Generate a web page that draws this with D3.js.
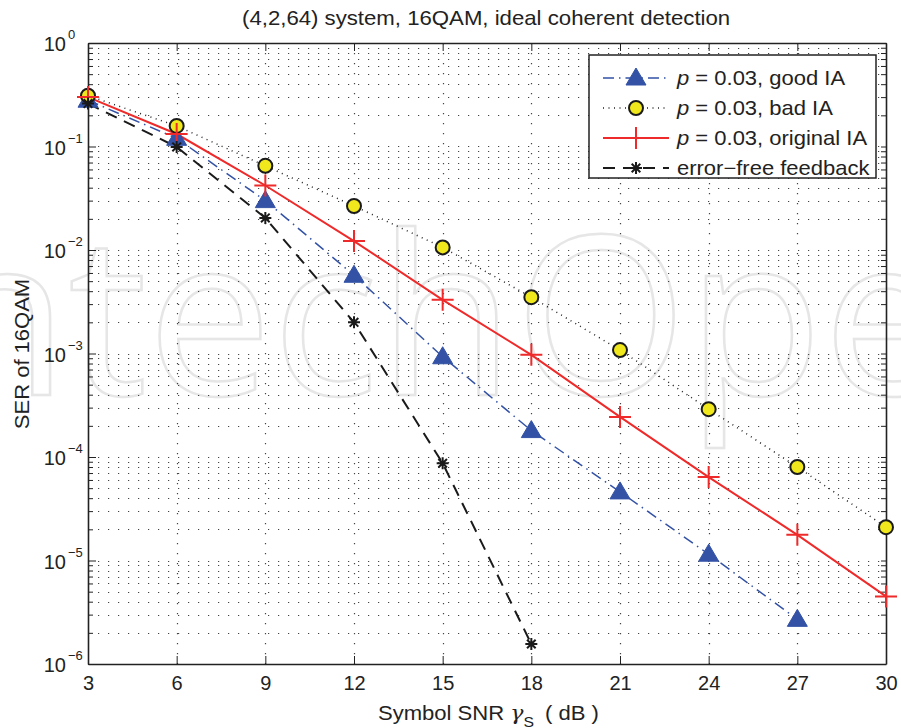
<!DOCTYPE html>
<html>
<head>
<meta charset="utf-8">
<script src="https://cdn.jsdelivr.net/npm/d3@7"></script>
<style>
  html, body { margin: 0; padding: 0; background: #fff; }
  svg { display: block; }
  text { font-family: "Liberation Sans", Arial, Helvetica, sans-serif; fill: #222; }
</style>
</head>
<body>
<svg id="chart" width="901" height="728"></svg>
<script>
// SNR points (dB)
const snr = [3, 6, 9, 12, 15, 18, 21, 24, 27, 30];

// Symbol error rates for each feedback scenario
const serGoodIA     = [0.28, 0.12, 0.030, 5.7e-3, 9.3e-4, 1.8e-4, 4.6e-5, 1.15e-5, 2.7e-6];
const serBadIA      = [0.31, 0.158, 0.065, 0.0266, 0.0106, 3.5e-3, 1.08e-3, 2.9e-4, 8.0e-5, 2.1e-5];
const serOriginalIA = [0.30, 0.132, 0.042, 0.0122, 3.3e-3, 9.7e-4, 2.44e-4, 6.4e-5, 1.77e-5, 4.5e-6];
const serErrorFree  = [0.26, 0.099, 0.0204, 2.0e-3, 8.7e-5, 1.56e-6];

const xTicks = [3, 6, 9, 12, 15, 18, 21, 24, 27, 30];
const yDecades = [0, -1, -2, -3, -4, -5, -6];

const legendLabels = [
  { p: "p", rest: " = 0.03, good IA" },
  { p: "p", rest: " = 0.03, bad IA" },
  { p: "p", rest: " = 0.03, original IA" },
  { p: "", rest: "error\u2212free feedback" }
];

const svg = d3.select("#chart");
const m = { left: 88, top: 43, right: 886, bottom: 664 };

const x = d3.scaleLinear().domain([3, 30]).range([m.left, m.right]);
const y = d3.scaleLog().domain([1e-6, 1]).range([m.bottom, m.top]);

// stretch a text element horizontally about its left edge by factor k
function stretchX(sel, k) {
  const x0 = +sel.attr("x");
  sel.attr("transform", `translate(${x0 * (1 - k)},0) scale(${k},1)`);
}

// faint publisher mark behind the plot
svg.append("text")
  .attr("x", -130).attr("y", 395)
  .style("font-family", "'Open Sans', sans-serif")
  .style("font-weight", 400)
  .style("font-size", "222px")
  .style("fill", "none")
  .style("stroke", "#e6e6e6")
  .style("stroke-width", 2.5)
  .text("IntechOpen");

const plot = svg.append("g");

// grid: horizontal lines at every decade and minor log tick, vertical at major x ticks
const minorVals = [];
for (let e = -6; e < 0; e++) for (let k = 1; k <= 9; k++) minorVals.push(k * Math.pow(10, e));
minorVals.push(1);

plot.append("g").selectAll("line").data(minorVals.filter(v => v > 1e-6 && v < 1)).join("line")
  .attr("x1", m.left).attr("x2", m.right)
  .attr("y1", d => Math.round(y(d)) + 0.5).attr("y2", d => Math.round(y(d)) + 0.5)
  .attr("stroke", "#444").attr("stroke-width", 1.2)
  .attr("stroke-dasharray", "1.2,8.8");

plot.append("g").selectAll("line").data(xTicks.slice(1, -1)).join("line")
  .attr("x1", d => Math.round(x(d)) + 0.5).attr("x2", d => Math.round(x(d)) + 0.5)
  .attr("y1", m.top).attr("y2", m.bottom)
  .attr("stroke", "#444").attr("stroke-width", 1.2)
  .attr("stroke-dasharray", "1.2,8.8");

// axes box with inward ticks
const axB = d3.axisBottom(x).tickValues(xTicks).tickSizeInner(-8).tickSizeOuter(0).tickPadding(12);
const axT = d3.axisTop(x).tickValues(xTicks).tickSizeInner(-8).tickSizeOuter(0).tickFormat("");
const axL = d3.axisLeft(y).tickValues(minorVals).tickSizeInner(-5).tickSizeOuter(0).tickFormat("");
const axR = d3.axisRight(y).tickValues(minorVals).tickSizeInner(-5).tickSizeOuter(0).tickFormat("");

const gB = plot.append("g").attr("transform", `translate(0,${m.bottom})`).call(axB);
plot.append("g").attr("transform", `translate(0,${m.top})`).call(axT);
const gL = plot.append("g").attr("transform", `translate(${m.left},0)`).call(axL);
plot.append("g").attr("transform", `translate(${m.right},0)`).call(axR);

// longer ticks at decades
gL.selectAll(".tick").filter(d => Number.isInteger(Math.log10(d))).select("line").attr("x2", 8);
plot.selectAll(".domain").attr("stroke", "#222").attr("stroke-width", 1.6);
plot.selectAll(".tick line").attr("stroke", "#222").attr("stroke-width", 1);
gB.selectAll(".tick text").style("font-size", "20px").style("fill", "#222")
  .style("font-family", "'Liberation Sans', Arial, sans-serif");

// y decade labels "10^e"
const yl = svg.append("g");
yDecades.forEach(e => {
  yl.append("text").attr("x", 66).attr("y", y(Math.pow(10, e)) + 8)
    .attr("text-anchor", "end").style("font-size", "20px").text("10");
  yl.append("text").attr("x", 68).attr("y", y(Math.pow(10, e)) - 4)
    .style("font-size", "13px").text(e === 0 ? "0" : "\u2212" + (-e));
});

// series
const series = [
  { data: serGoodIA, color: "#3352a6", dash: "11,5,1.5,5", width: 1.5, marker: "tri" },
  { data: serBadIA, color: "#222", dash: "1,4.5", width: 1.5, marker: "circle" },
  { data: serOriginalIA, color: "#ee2a2a", dash: null, width: 2, marker: "plus" },
  { data: serErrorFree, color: "#1a1a1a", dash: "12,8", width: 2, marker: "star" }
];

const line = d3.line().x(d => x(d[0])).y(d => y(d[1]));

function drawMarker(g, type, cx, cy) {
  if (type === "tri") {
    g.append("path").attr("d", `M${cx},${cy - 10}L${cx + 10},${cy + 7}L${cx - 10},${cy + 7}Z`)
      .attr("fill", "#3352a6").attr("stroke", "#3352a6").attr("stroke-width", 1);
  } else if (type === "circle") {
    g.append("circle").attr("cx", cx).attr("cy", cy).attr("r", 7)
      .attr("fill", "#f0e81c").attr("stroke", "#1a1a1a").attr("stroke-width", 2);
  } else if (type === "plus") {
    g.append("path").attr("d", `M${cx - 11},${cy}H${cx + 11}M${cx},${cy - 11}V${cy + 11}`)
      .attr("stroke", "#ee2a2a").attr("stroke-width", 2).attr("fill", "none");
  } else if (type === "star") {
    const r = 6, q = 4.3;
    g.append("path").attr("d",
      `M${cx - r},${cy}H${cx + r}M${cx},${cy - r}V${cy + r}M${cx - q},${cy - q}L${cx + q},${cy + q}M${cx - q},${cy + q}L${cx + q},${cy - q}`)
      .attr("stroke", "#1a1a1a").attr("stroke-width", 2).attr("fill", "none");
  }
}

const sg = svg.append("g");
series.forEach(s => {
  const pts = s.data.map((v, i) => [snr[i], v]);
  sg.append("path").datum(pts).attr("d", line)
    .attr("fill", "none").attr("stroke", s.color).attr("stroke-width", s.width)
    .attr("stroke-dasharray", s.dash);
});
series.forEach(s => {
  const g = sg.append("g");
  s.data.forEach((v, i) => drawMarker(g, s.marker, x(snr[i]), y(v)));
});

// legend
const lg = svg.append("g");
lg.append("rect").attr("x", 589).attr("y", 55).attr("width", 287).attr("height", 123)
  .attr("fill", "#fff").attr("stroke", "#222").attr("stroke-width", 1.5);
const rowsY = [78, 108, 138, 168];
series.forEach((s, i) => {
  const yy = rowsY[i];
  lg.append("line").attr("x1", 603).attr("x2", 669).attr("y1", yy).attr("y2", yy)
    .attr("stroke", s.color).attr("stroke-width", s.width).attr("stroke-dasharray", s.dash);
  const g = lg.append("g");
  drawMarker(g, s.marker, 636, yy);
  const t = lg.append("text").attr("x", 677).attr("y", yy + 7).style("font-size", "20px");
  if (legendLabels[i].p) t.append("tspan").style("font-style", "italic").text(legendLabels[i].p);
  t.append("tspan").text(legendLabels[i].rest);
  stretchX(t, 1.1);
});

// title and axis labels
const title = svg.append("text").attr("x", 242).attr("y", 25)
  .style("font-size", "20px").text("(4,2,64) system, 16QAM, ideal coherent detection");
stretchX(title, 1.11);

const xl = svg.append("text").attr("x", 378).attr("y", 720).style("font-size", "21px");
xl.append("tspan").text("Symbol SNR ");
xl.append("tspan").style("font-family", "'DejaVu Serif', serif").style("font-style", "italic").text("\u03b3");
xl.append("tspan").attr("dy", 7).style("font-size", "15px").text("S");
xl.append("tspan").attr("dy", -7).text("\u2002( dB )");
stretchX(xl, 1.05);

svg.append("text").attr("transform", "translate(29,354) rotate(-90) scale(1.1,1)")
  .attr("text-anchor", "middle")
  .style("font-size", "20px").text("SER of 16QAM");
</script>
</body>
</html>
